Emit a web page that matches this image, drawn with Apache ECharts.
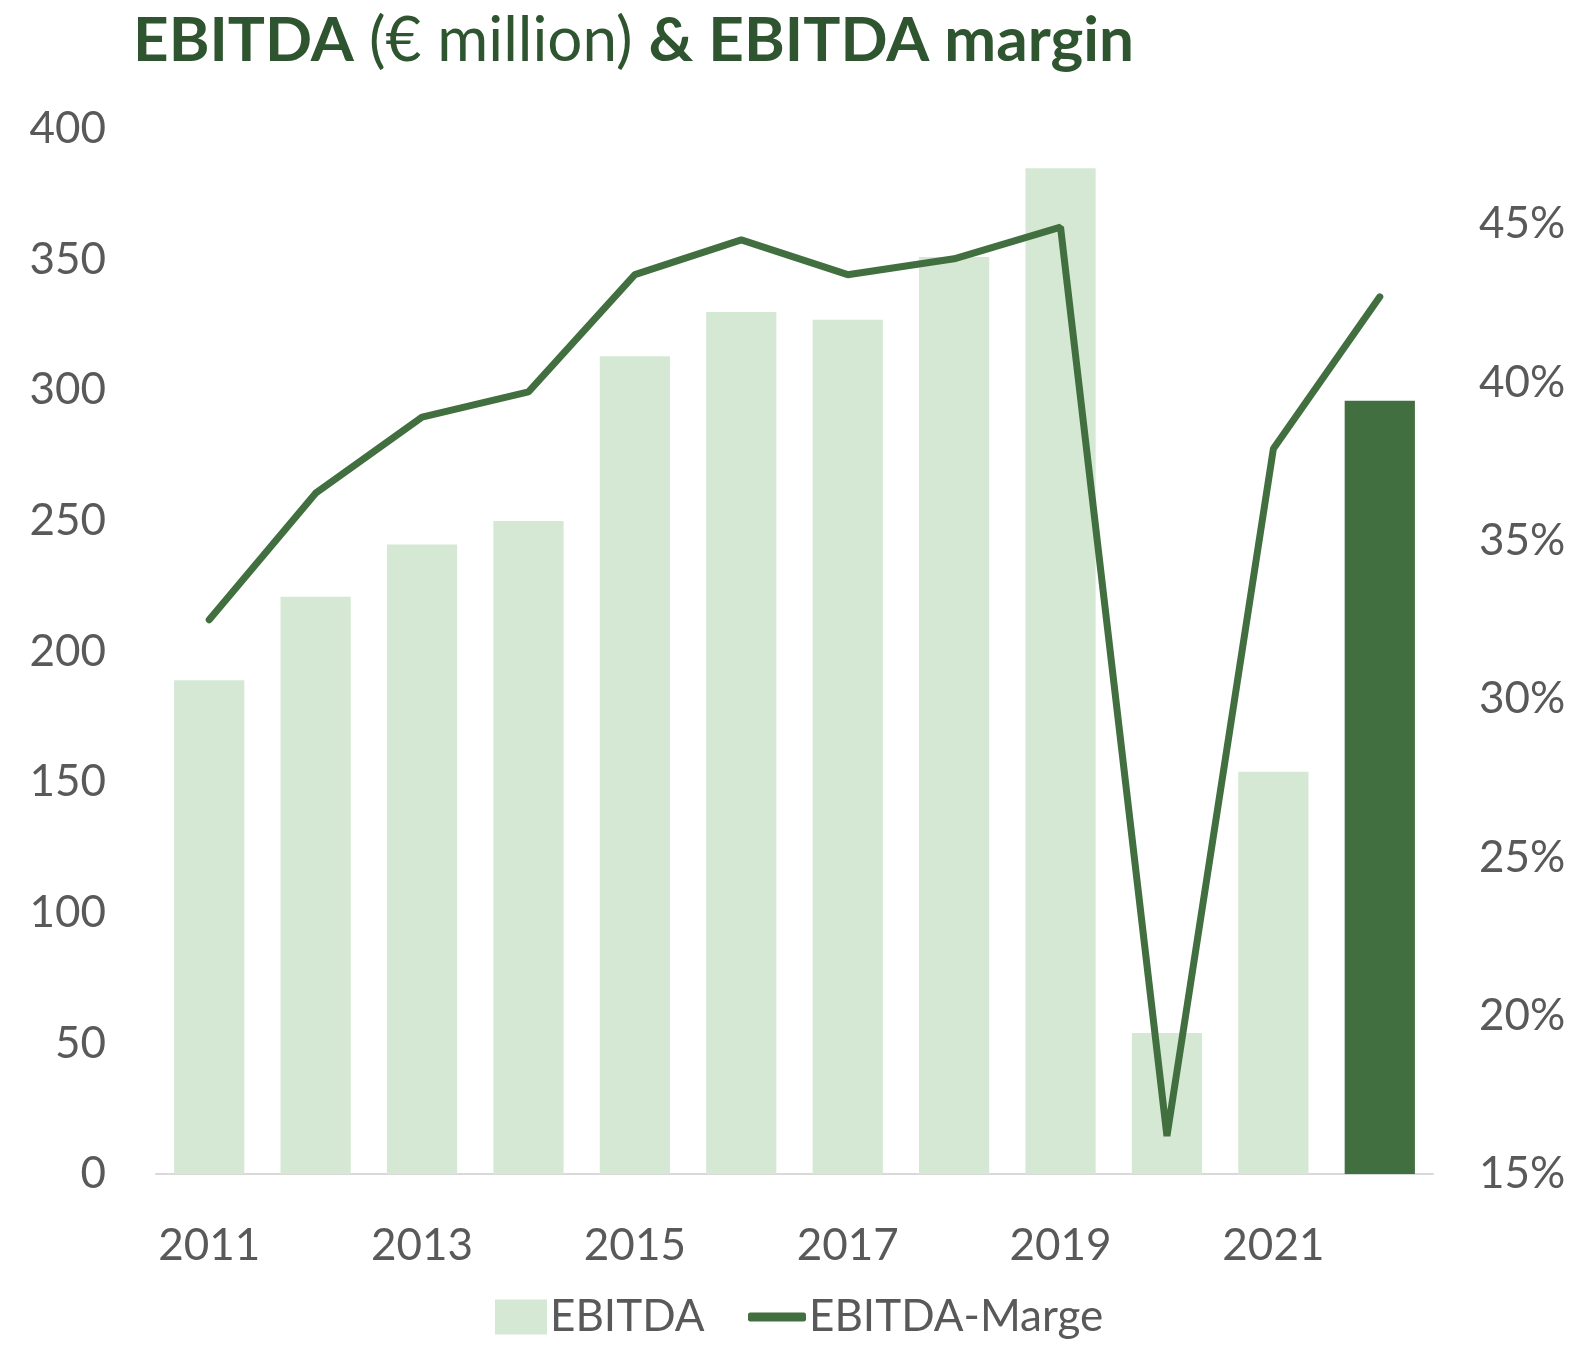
<!DOCTYPE html>
<html>
<head>
<meta charset="utf-8">
<script src="https://cdn.jsdelivr.net/npm/echarts@6/dist/echarts.min.js"></script>
<style>
  html, body { margin: 0; padding: 0; background: #fff; }
  #chart { width: 1580px; height: 1352px; }
</style>
</head>
<body>
<div id="chart"></div>
<script>
// data
const years = ['2011', '2012', '2013', '2014', '2015', '2016', '2017', '2018', '2019', '2020', '2021', '2022']
const ebitda = [189, 221, 241, 250, 313, 330, 327, 351, 385, 54, 154, 296]
const margin = [0.325, 0.365, 0.389, 0.397, 0.434, 0.445, 0.434, 0.439, 0.449, 0.162, 0.379, 0.427]

const lightGreen = '#d5e8d4'
const darkGreen = '#426f3f'
const textGrey = '#595959'
const font = 'Lato'

let chart = echarts.init(document.getElementById('chart'))

let option = {
  animation: false,
  textStyle: { fontFamily: font },
  title: {
    left: 128,
    top: 5,
    text: '{b|EBITDA }{n|(€ million) }{b|& EBITDA margin}',
    textStyle: {
      rich: {
        b: { fontFamily: font, fontSize: 62, fontWeight: 'bold', color: '#2f5530' },
        n: { fontFamily: font, fontSize: 62, fontWeight: 'normal', color: '#2f5530' }
      }
    }
  },
  legend: [
    {
      left: 490,
      bottom: 8,
      itemWidth: 52,
      itemHeight: 35,
      itemGap: 4,
      textStyle: { fontSize: 44, color: textGrey, fontFamily: font, padding: [0, 0, 0, -2] },
      data: [{ name: 'EBITDA', icon: 'rect', itemStyle: { color: lightGreen } }]
    },
    {
      left: 743,
      bottom: 8,
      itemWidth: 58,
      itemHeight: 9,
      itemGap: 4,
      textStyle: { fontSize: 44, color: textGrey, fontFamily: font, padding: [0, 0, 0, -2] },
      data: [{ name: 'EBITDA-Marge', icon: 'roundRect' }]
    }
  ],
  grid: { left: 156, right: 147, top: 129, bottom: 178 },
  xAxis: {
    type: 'category',
    data: years,
    axisLine: { show: true, lineStyle: { color: '#d9d9d9', width: 2 } },
    axisTick: { show: false },
    axisLabel: { interval: 1, fontSize: 44, color: textGrey, margin: 50 }
  },
  yAxis: [
    {
      type: 'value',
      min: 0,
      max: 400,
      interval: 50,
      splitLine: { show: false },
      axisLabel: { fontSize: 44, color: textGrey, margin: 50 }
    },
    {
      type: 'value',
      min: 0.15,
      max: 0.48,
      interval: 0.05,
      splitLine: { show: false },
      axisLabel: {
        fontSize: 44,
        color: textGrey,
        margin: 46,
        formatter: v => {
          let p = Math.round(v * 1000) / 10
          return p % 5 === 0 ? p + '%' : ''
        }
      }
    }
  ],
  series: [
    {
      name: 'EBITDA',
      type: 'bar',
      barCategoryGap: '34%',
      itemStyle: { color: lightGreen },
      data: ebitda.map((v, i) => i === ebitda.length - 1 ? { value: v, itemStyle: { color: darkGreen } } : v)
    },
    {
      name: 'EBITDA-Marge',
      type: 'line',
      yAxisIndex: 1,
      symbol: 'none',
      itemStyle: { color: darkGreen },
      lineStyle: { color: darkGreen, width: 7, cap: 'round' },
      data: margin
    }
  ]
}

option && chart.setOption(option)
</script>
</body>
</html>
